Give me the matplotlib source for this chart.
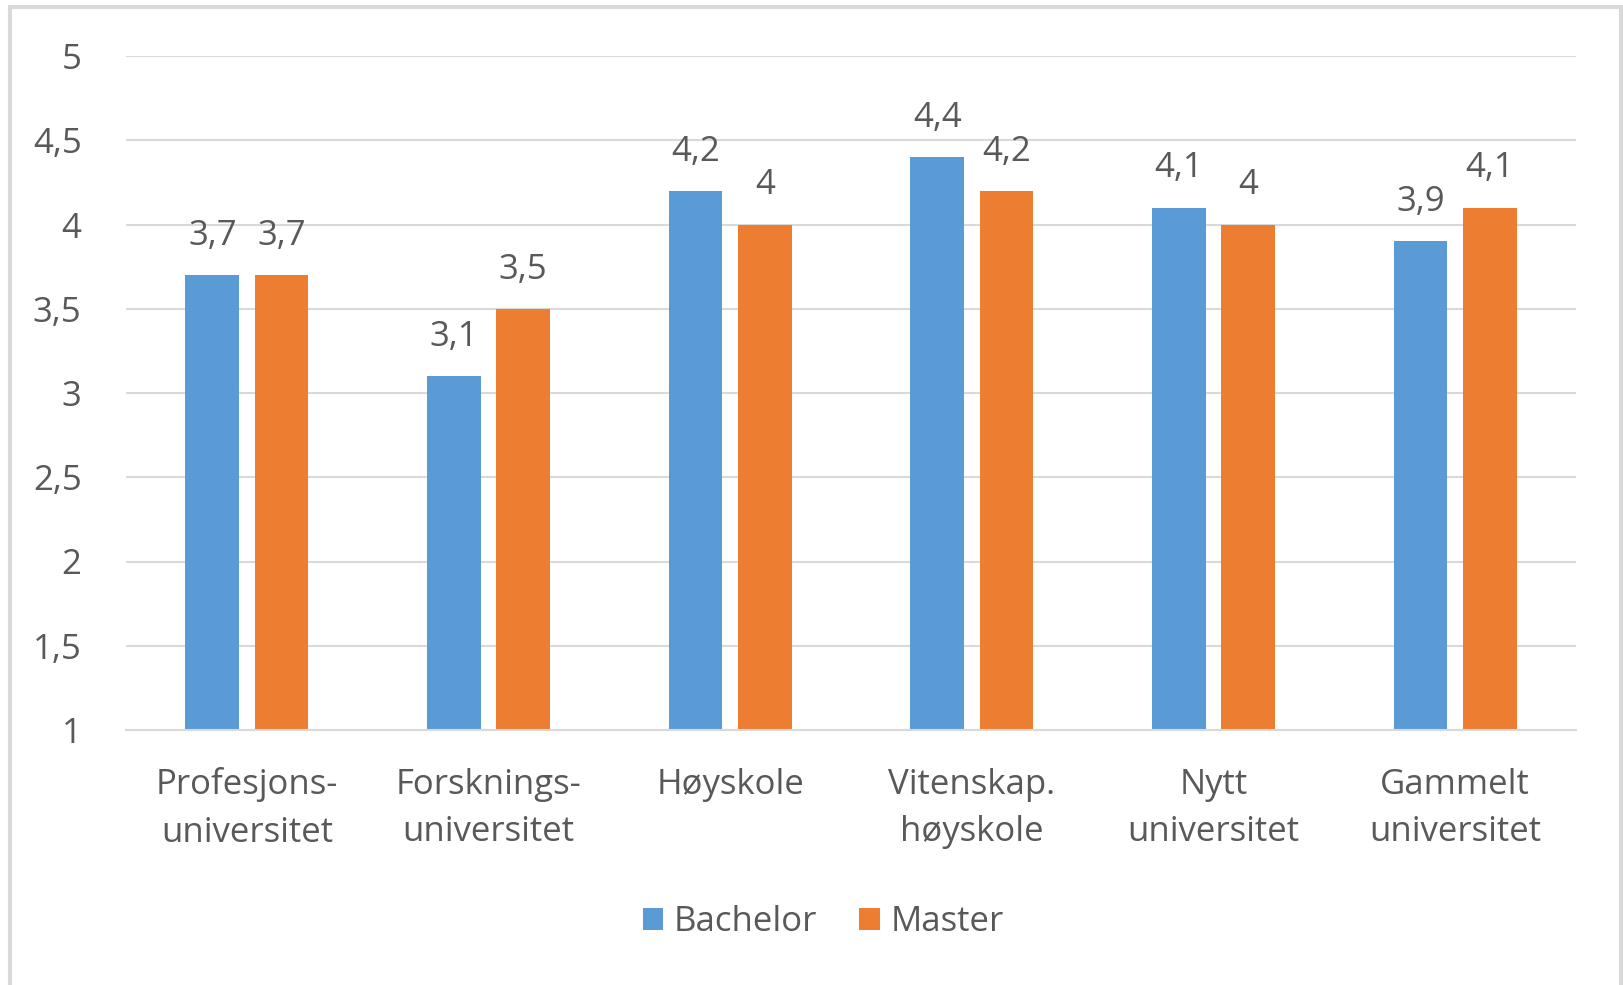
import matplotlib
matplotlib.use("Agg")
import matplotlib.pyplot as plt
from matplotlib.patches import Rectangle
import numpy as np

categories = ["Profesjons-\nuniversitet", "Forsknings-\nuniversitet", "Høyskole",
              "Vitenskap.\nhøyskole", "Nytt\nuniversitet", "Gammelt\nuniversitet"]
bachelor = [3.7, 3.1, 4.2, 4.4, 4.1, 3.9]
master = [3.7, 3.5, 4.0, 4.2, 4.0, 4.1]
yticks = [1, 1.5, 2, 2.5, 3, 3.5, 4, 4.5, 5]

blue = "#5b9bd5"
orange = "#ed7d31"
txt = "#595959"
grid = "#d9d9d9"

plt.rcParams['font.family'] = ['Open Sans', 'DejaVu Sans']
FS = 25

fig = plt.figure(figsize=(16.24, 9.85), dpi=100)
fig.patches.append(Rectangle((10/1624, -0.01), (1621-10)/1624, 1.01 - 7/985,
                             transform=fig.transFigure, fill=False,
                             edgecolor="#d9d9d9", linewidth=3))
ax = fig.add_axes([126/1624, 1 - 730/985, (1576-126)/1624, (730-56)/985])

def fmt(v):
    s = f"{v:g}"
    return s.replace(".", ",")

x = np.arange(len(categories))
w = 0.222
off = 0.143
b1 = ax.bar(x - off, np.array(bachelor) - 1, w, bottom=1, color=blue, label="Bachelor")
b2 = ax.bar(x + off, np.array(master) - 1, w, bottom=1, color=orange, label="Master")
for xs, vals in ((x - off, bachelor), (x + off, master)):
    for xi, v in zip(xs, vals):
        ax.annotate(fmt(v), (xi, v), xytext=(0, 16), textcoords="offset points",
                    ha="center", va="bottom", fontsize=FS, color=txt)

ax.set_xlim(-0.5, len(categories) - 0.5)
ax.set_ylim(1, 5)
ax.set_yticks(yticks)
ax.set_yticklabels([fmt(v) for v in yticks])
ax.set_xticks(x)
ax.set_xticklabels(categories, linespacing=1.52)
ax.tick_params(axis="y", length=0, pad=32, labelsize=FS, labelcolor=txt)
ax.tick_params(axis="x", length=0, pad=27, labelsize=FS, labelcolor=txt)
ax.grid(axis="y", color=grid, linewidth=1.5)
ax.set_axisbelow(True)
for s in ["top", "right", "left"]:
    ax.spines[s].set_visible(False)
ax.spines["bottom"].set_color(grid)
ax.spines["bottom"].set_linewidth(1.5)

leg = fig.legend(handles=[b1, b2], loc="center", bbox_to_anchor=(823/1624, 1 - 922/985),
                 ncol=2, frameon=False, fontsize=FS, handlelength=0.6, handleheight=0.6,
                 handletextpad=0.3, columnspacing=1.2)
for t in leg.get_texts():
    t.set_color(txt)

fig.savefig("out.png", dpi=100)
